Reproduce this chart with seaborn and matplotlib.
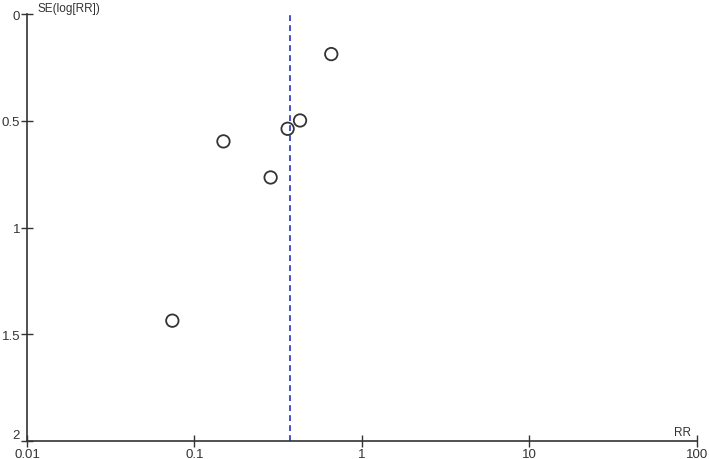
import matplotlib
matplotlib.use("Agg")
import matplotlib.pyplot as plt
import seaborn as sns
import pandas as pd

rr = [0.656, 0.427, 0.360, 0.149, 0.285, 0.0738]
se = [0.187, 0.498, 0.537, 0.596, 0.765, 1.436]
pooled_rr = 0.37
x_ticks = [0.01, 0.1, 1, 10, 100]
x_tick_labels = ["0.01", "0.1", "1", "10", "100"]
y_ticks = [0, 0.5, 1, 1.5, 2]
y_tick_labels = ["0", "0.5", "1", "1.5", "2"]

sns.set_style("white")
plt.rcParams['font.family'] = ['Liberation Sans', 'DejaVu Sans']

df = pd.DataFrame({"RR": rr, "SE": se})

fig = plt.figure(figsize=(7.09, 4.60), dpi=100)
ax = fig.add_axes([0.038, 0.039, 0.945, 0.928])

sns.scatterplot(data=df, x="RR", y="SE", ax=ax, marker="o", s=80,
                facecolor="none", edgecolor="#333333", linewidth=1.3, zorder=3)
ax.axvline(pooled_rr, color="#2233bb", linestyle=(0, (3.5, 2.5)), linewidth=1.2, zorder=2)

ax.set_xscale("log")
ax.set_xlim(0.01, 100)
ax.set_ylim(2, 0)
ax.set_xticks(x_ticks)
ax.set_xticklabels(x_tick_labels)
ax.set_yticks(y_ticks)
ax.set_yticklabels(y_tick_labels)
ax.minorticks_off()
ax.set_xlabel("")
ax.set_ylabel("")

for s in ["top", "right"]:
    ax.spines[s].set_visible(False)
for s in ["left", "bottom"]:
    ax.spines[s].set_color("#333333")
    ax.spines[s].set_linewidth(1.2)
ax.tick_params(axis="both", direction="inout", length=8, width=1.0, color="#333333",
               labelsize=9.5, labelcolor="#333333", bottom=True, left=True)
ax.tick_params(axis="x", pad=1)
ax.tick_params(axis="y", pad=1)
for lbl in ax.get_yticklabels():
    if lbl.get_text() == "2":
        lbl.set_va("bottom")

ax.text(0.0115, 0.0, "SE(log[RR])", ha="left", va="bottom", fontsize=8.5, color="#333333")
ax.text(92, 1.985, "RR", ha="right", va="bottom", fontsize=8.5, color="#333333")

fig.savefig("out.png", dpi=100)
